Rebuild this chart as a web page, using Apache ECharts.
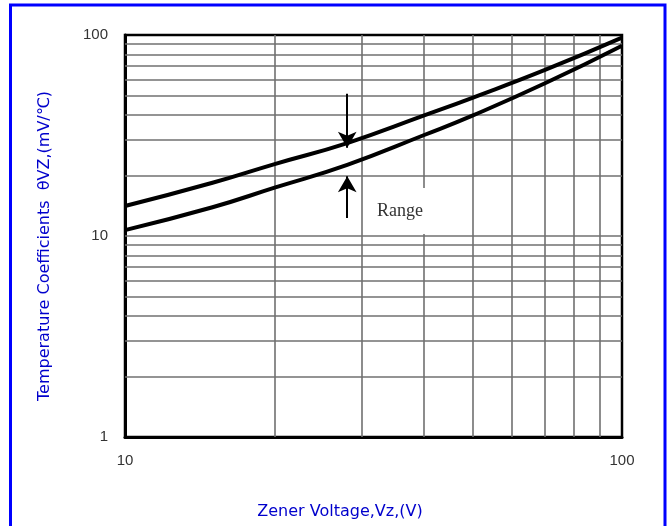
<!DOCTYPE html>
<html lang="en">
<head>
    <meta charset="UTF-8">
    <title>Temperature Coefficients</title>
    <style>
        html,body{
            margin: 0px;
            height: 100%;
            background: #fff;
        }
        #chart{
            width: 672px;
            height: 526px;
        }
    </style>
    <script src="https://cdn.jsdelivr.net/npm/echarts@6/dist/echarts.min.js"></script>
</head>
<body>
<div id="chart"></div>
<script>
    // Zener voltage (V)
    var voltage = [10, 15, 20, 28, 40, 50, 70, 100];
    // range limits, mV/°C
    var upperCoef = [14.1, 18.4, 22.8, 29, 39.8, 48.7, 67, 97];
    var lowerCoef = [10.7, 13.9, 17.4, 22.6, 31.8, 39.7, 57.5, 88.5];
    // minor grid lines
    var xGrid = [20, 30, 40, 50, 60, 70, 80, 90];
    var yGrid = [2, 3, 4, 5, 6, 7, 8, 9, 10, 20, 30, 40, 50, 60, 70, 80, 90];
    // "Range" arrows: x, from, to
    var arrowDown = [28, 51, 27.5];
    var arrowUp = [28, 12.3, 19.8];

    function pairs(xs, ys) {
        return xs.map(function (x, i) { return [x, ys[i]]; });
    }

    var gridLines = [];
    xGrid.forEach(function (v) { gridLines.push({xAxis: v}); });
    yGrid.forEach(function (v) { gridLines.push({yAxis: v}); });

    var chart = echarts.init(document.getElementById('chart'));
    var option = {
        animation: false,
        grid: {
            left: 125, right: 50, top: 35, bottom: 89,
            show: true,
            borderColor: '#000',
            borderWidth: 2.5
        },
        xAxis: {
            type: 'log',
            logBase: 10,
            min: 10,
            max: 100,
            axisLine: {lineStyle: {color: '#000', width: 3}},
            axisTick: {show: false},
            splitLine: {show: false},
            axisLabel: {color: '#333', fontSize: 15, fontFamily: 'Liberation Sans', margin: 16}
        },
        yAxis: {
            type: 'log',
            logBase: 10,
            min: 1,
            max: 100,
            axisLine: {lineStyle: {color: '#000', width: 3}},
            axisTick: {show: false},
            splitLine: {show: false},
            axisLabel: {color: '#333', fontSize: 15, fontFamily: 'Liberation Sans', margin: 17}
        },
        graphic: [
            {
                type: 'rect',
                shape: {x: 10.5, y: 5, width: 654.5, height: 540},
                style: {fill: 'none', stroke: '#0000ff', lineWidth: 3},
                silent: true
            },
            {
                type: 'text',
                x: 45, y: 246,
                rotation: Math.PI / 2,
                style: {
                    text: 'Temperature Coefficients  θVZ,(mV/℃)',
                    fill: '#0000cc',
                    font: '16px "DejaVu Sans"',
                    align: 'center',
                    verticalAlign: 'middle'
                }
            },
            {
                type: 'text',
                x: 340, y: 512,
                style: {
                    text: 'Zener Voltage,Vz,(V)',
                    fill: '#0000cc',
                    font: '16px "DejaVu Sans"',
                    align: 'center',
                    verticalAlign: 'middle'
                }
            },
            {
                type: 'text',
                x: 400, y: 211,
                z: 100,
                zlevel: 1,
                style: {
                    text: 'Range',
                    fill: '#333',
                    font: '18px "Liberation Serif", serif',
                    align: 'center',
                    verticalAlign: 'middle',
                    backgroundColor: '#fff',
                    padding: [14, 5]
                }
            }
        ],
        series: [
            {
                type: 'line',
                data: [[10, 1]],
                symbol: 'none',
                lineStyle: {width: 0},
                silent: true,
                z: 1,
                markLine: {
                    silent: true,
                    symbol: 'none',
                    label: {show: false},
                    lineStyle: {color: '#707070', width: 1.6, type: 'solid'},
                    data: gridLines
                }
            },
            {
                type: 'line',
                data: pairs(voltage, upperCoef),
                smooth: true,
                symbol: 'none',
                lineStyle: {color: '#000', width: 4},
                z: 5
            },
            {
                type: 'line',
                data: pairs(voltage, lowerCoef),
                smooth: true,
                symbol: 'none',
                lineStyle: {color: '#000', width: 4},
                z: 5,
                markLine: {
                    silent: true,
                    symbol: ['none', 'arrow'],
                    symbolSize: [14, 16],
                    label: {show: false},
                    lineStyle: {color: '#000', width: 2, type: 'solid'},
                    data: [
                        [{coord: [arrowDown[0], arrowDown[1]]}, {coord: [arrowDown[0], arrowDown[2]]}],
                        [{coord: [arrowUp[0], arrowUp[1]]}, {coord: [arrowUp[0], arrowUp[2]]}]
                    ]
                }
            }
        ]
    };
    chart.setOption(option);
</script>
</body>
</html>
